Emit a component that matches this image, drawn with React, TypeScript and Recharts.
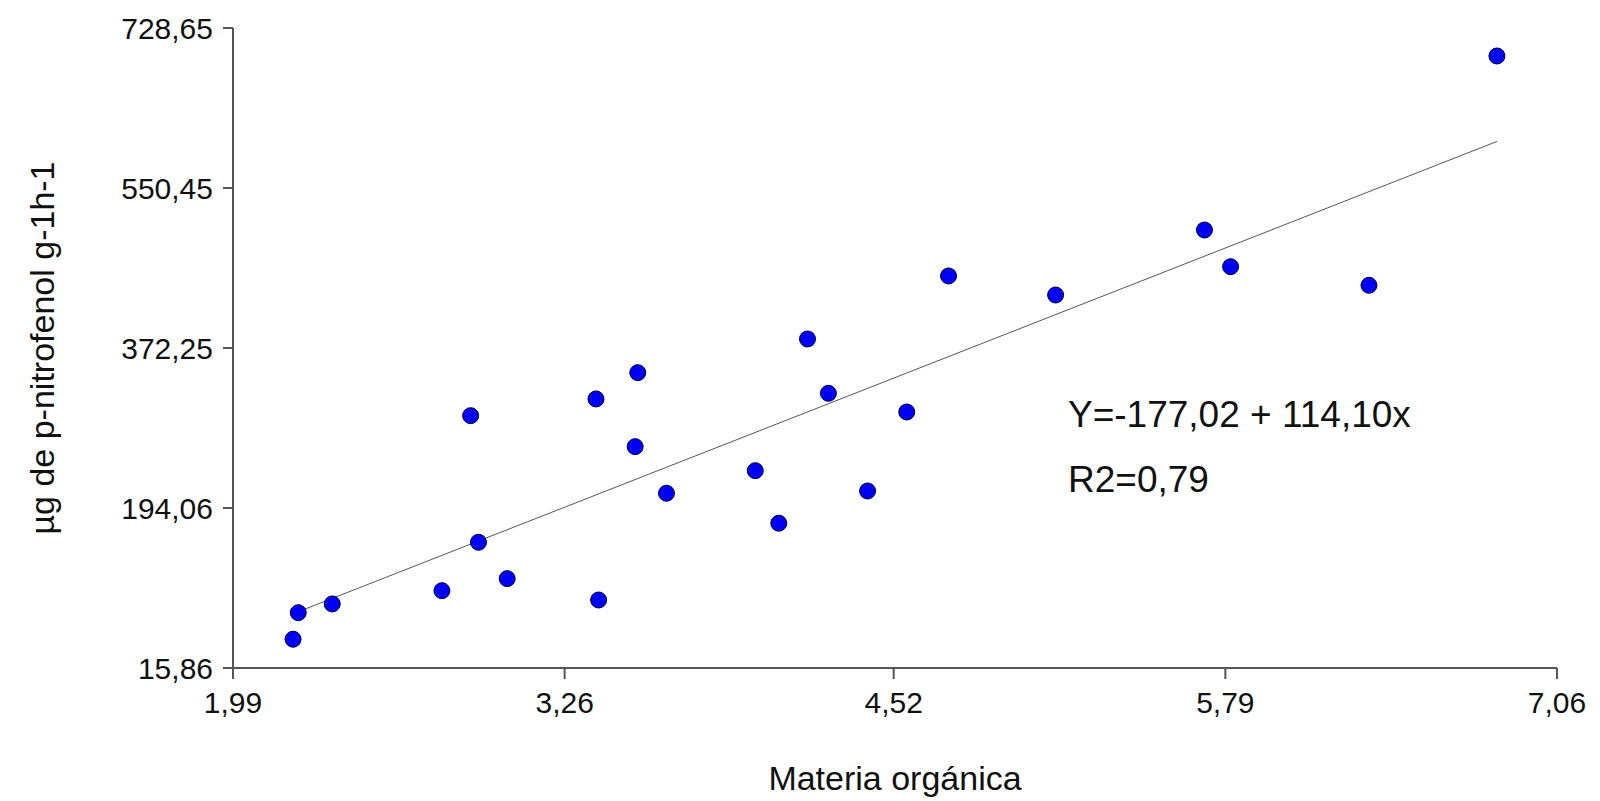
import { Customized, Label, ReferenceLine, Scatter, ScatterChart, XAxis, YAxis } from "recharts"

// materia orgánica (x) y µg de p-nitrofenol (y)
const materiaOrganica = [
    2.22, 2.24, 2.37, 2.79, 2.9, 2.93, 3.04, 3.38, 3.39, 3.53, 3.54, 3.65,
    3.99, 4.08, 4.19, 4.27, 4.42, 4.57, 4.73, 5.14, 5.71, 5.81, 6.34, 6.83,
]
const nitrofenol = [
    47.9, 77.5, 87.2, 102.0, 296.9, 155.9, 115.4, 315.5, 91.6, 262.4, 344.8, 210.5,
    235.6, 177.1, 382.3, 321.8, 213.0, 301.0, 452.5, 431.3, 503.7, 462.8, 442.1, 697.5,
]

const xTicks = [1.99, 3.26, 4.52, 5.79, 7.06]
const yTicks = [15.86, 194.06, 372.25, 550.45, 728.65]

// recta de regresión Y=-177,02 + 114,10x entre el mínimo y el máximo de x
const trendLine = [
    { x: 2.22, y: 76.28 },
    { x: 6.83, y: 602.28 },
]

const points = materiaOrganica.map((x, i) => ({ x, y: nitrofenol[i] }))

const FONT = "'Liberation Sans', Arial, sans-serif"
const AXIS = "#555555"

const fmt = (v: number) => v.toFixed(2).replace(".", ",")

const Dot = (props: any) => (
    <circle cx={props.cx} cy={props.cy} r={8} fill="#0000f5" stroke="#00003a" strokeWidth={1} />
)

export default function App() {
    return (
        <div style={{ position: "absolute", left: 0, top: 0, background: "#fff" }}>
            <ScatterChart width={1600} height={801} margin={{ top: 28, right: 43, bottom: 0, left: 0 }}>
                <XAxis
                    type="number"
                    dataKey="x"
                    domain={[1.99, 7.06]}
                    ticks={xTicks}
                    tickFormatter={fmt}
                    height={133}
                    stroke={AXIS}
                    strokeWidth={2}
                    tickSize={11}
                    tickMargin={13}
                    tick={{ fill: "#111", fontSize: 30, fontFamily: FONT }}
                    allowDataOverflow
                >
                    <Label
                        value="Materia orgánica"
                        position="insideBottom"
                        offset={11}
                        style={{ fill: "#111", fontSize: 34, fontFamily: FONT }}
                    />
                </XAxis>
                <YAxis
                    type="number"
                    dataKey="y"
                    domain={[15.86, 728.65]}
                    ticks={yTicks}
                    tickFormatter={fmt}
                    width={233}
                    stroke={AXIS}
                    strokeWidth={2}
                    tickSize={10}
                    tickMargin={10}
                    tick={{ fill: "#111", fontSize: 30, fontFamily: FONT }}
                    allowDataOverflow
                >
                    <Label
                        value="µg de p-nitrofenol g-1h-1"
                        angle={-90}
                        position="insideLeft"
                        offset={42}
                        style={{ fill: "#111", fontSize: 34, fontFamily: FONT, textAnchor: "middle" }}
                    />
                </YAxis>
                <ReferenceLine segment={trendLine} stroke="#555" strokeWidth={1} />
                <Scatter data={points} shape={Dot} isAnimationActive={false} />
                <Customized
                    component={() => (
                        <g style={{ fontFamily: FONT, fontSize: 37, fill: "#111" }}>
                            <text x={1068} y={427}>Y=-177,02 + 114,10x</text>
                            <text x={1068} y={492}>R2=0,79</text>
                        </g>
                    )}
                />
            </ScatterChart>
        </div>
    )
}
